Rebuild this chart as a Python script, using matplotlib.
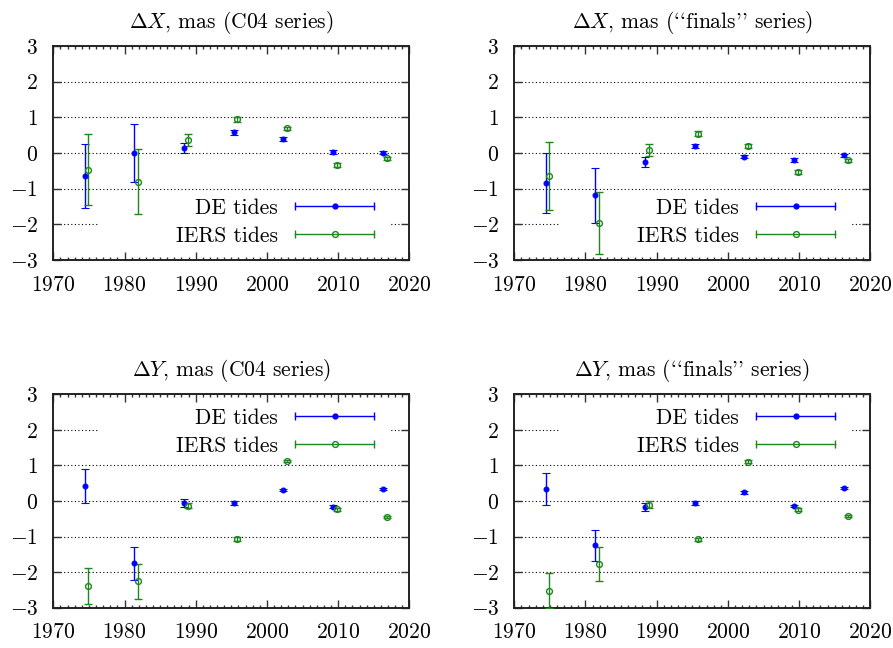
import matplotlib
matplotlib.use('Agg')
import matplotlib.pyplot as plt
from matplotlib.lines import Line2D
from matplotlib.patches import Rectangle
from matplotlib.legend_handler import HandlerBase

# epochs (years) of the two solutions
years_de = [1974.4, 1981.3, 1988.3, 1995.4, 2002.3, 2009.3, 2016.3]
years_iers = [1974.9, 1981.85, 1988.9, 1995.85, 2002.8, 2009.8, 2016.8]

# dX, C04
dx_c04_de = [-0.65, 0.0, 0.14, 0.58, 0.39, 0.02, 0.01]
dx_c04_de_err = [0.90, 0.82, 0.15, 0.07, 0.06, 0.05, 0.05]
dx_c04_iers = [-0.47, -0.81, 0.36, 0.95, 0.69, -0.34, -0.15]
dx_c04_iers_err = [1.00, 0.91, 0.17, 0.07, 0.05, 0.05, 0.05]

# dX, finals
dx_fin_de = [-0.84, -1.19, -0.25, 0.19, -0.10, -0.19, -0.07]
dx_fin_de_err = [0.84, 0.77, 0.15, 0.06, 0.05, 0.05, 0.05]
dx_fin_iers = [-0.65, -1.96, 0.09, 0.54, 0.20, -0.53, -0.21]
dx_fin_iers_err = [0.95, 0.87, 0.17, 0.07, 0.05, 0.05, 0.05]

# dY, C04
dy_c04_de = [0.42, -1.75, -0.06, -0.06, 0.30, -0.16, 0.33]
dy_c04_de_err = [0.48, 0.46, 0.11, 0.05, 0.03, 0.04, 0.03]
dy_c04_iers = [-2.39, -2.26, -0.13, -1.07, 1.13, -0.23, -0.44]
dy_c04_iers_err = [0.52, 0.50, 0.08, 0.05, 0.03, 0.04, 0.03]

# dY, finals
dy_fin_de = [0.34, -1.25, -0.17, -0.05, 0.24, -0.14, 0.36]
dy_fin_de_err = [0.44, 0.43, 0.10, 0.05, 0.03, 0.04, 0.03]
dy_fin_iers = [-2.52, -1.77, -0.11, -1.08, 1.11, -0.24, -0.41]
dy_fin_iers_err = [0.50, 0.47, 0.10, 0.05, 0.03, 0.04, 0.03]

# cmr10 uses TeX-style quotes: `` and ''
titles = [r"$\Delta X$, mas (C04 series)", r"$\Delta X$, mas (``finals'' series)",
          r"$\Delta Y$, mas (C04 series)", r"$\Delta Y$, mas (``finals'' series)"]
panels = [
    (dx_c04_de, dx_c04_de_err, dx_c04_iers, dx_c04_iers_err),
    (dx_fin_de, dx_fin_de_err, dx_fin_iers, dx_fin_iers_err),
    (dy_c04_de, dy_c04_de_err, dy_c04_iers, dy_c04_iers_err),
    (dy_fin_de, dy_fin_de_err, dy_fin_iers, dy_fin_iers_err),
]

plt.rcParams['font.family'] = ['cmr10', 'DejaVu Serif']
plt.rcParams['mathtext.fontset'] = 'cm'
plt.rcParams['axes.formatter.use_mathtext'] = True
plt.rcParams['axes.unicode_minus'] = True

BLUE = '#0000ff'
GREEN = '#208620'
FS = 15.5


class HBarHandler(HandlerBase):
    # gnuplot-like key sample: horizontal error bar with a point in the middle
    def create_artists(self, legend, orig_handle, xdescent, ydescent,
                       width, height, fontsize, trans):
        data_line = orig_handle[0]
        c = data_line.get_color()
        y = height / 2 - ydescent
        x0, x1 = -xdescent, width - xdescent
        ln = Line2D([x0, x1], [y, y], color=c, lw=1.0)
        caps = Line2D([x0, x1], [y, y], ls='', marker='|', ms=6, mew=1.0, color=c)
        pt = Line2D([(x0 + x1) / 2], [y], ls='', marker='o',
                    ms=data_line.get_markersize(),
                    mfc=data_line.get_markerfacecolor(), mec=c, mew=1.0)
        for a in (ln, caps, pt):
            a.set_transform(trans)
        return [ln, caps, pt]


fig = plt.figure(figsize=(8.93, 6.48), dpi=100)
boxes = [
    [0.0597, 0.5988, 0.3987, 0.3302],
    [0.5759, 0.5988, 0.3987, 0.3302],
    [0.0597, 0.0622, 0.3987, 0.3293],
    [0.5759, 0.0622, 0.3987, 0.3293],
]

for i, (box, title, (de, de_err, ie, ie_err)) in enumerate(zip(boxes, titles, panels)):
    ax = fig.add_axes(box)
    ax.set_axisbelow(True)
    ax.set_xlim(1970, 2020)
    ax.set_ylim(-3, 3)
    ax.set_xticks(range(1970, 2021, 10))
    ax.set_xticks(range(1970, 2021, 1), minor=True)
    ax.set_yticks(range(-3, 4))
    ax.tick_params(which='both', direction='in', top=True, right=True,
                   labelsize=FS, color='#333333')
    ax.tick_params(which='major', length=6, width=1.0)
    ax.tick_params(which='minor', length=2.5, width=1.0)
    ax.tick_params(axis='x', pad=11)
    ax.tick_params(axis='y', pad=11)
    ax.grid(axis='y', color='black', lw=0.8, ls=(0, (1, 2.2)))
    for s in ax.spines.values():
        s.set_linewidth(1.4)
        s.set_color('#222222')
    ax.set_title(title, fontsize=FS, pad=13)

    h1 = ax.errorbar(years_de, de, yerr=de_err, fmt='o', color=BLUE, ms=3.5,
                     mew=0.8, elinewidth=1.0, capsize=3, capthick=1.0, zorder=3)
    h2 = ax.errorbar(years_iers, ie, yerr=ie_err, fmt='o', color=GREEN, ms=4.2,
                     mfc='none', mew=1.0, elinewidth=1.0, capsize=3, capthick=1.0,
                     zorder=3)

    top = i < 2
    # opaque key background (hides grid only)
    ry = 0.04 if top else 0.69
    ax.add_patch(Rectangle((0.129, ry), 0.817, 0.27, transform=ax.transAxes,
                           facecolor='white', edgecolor='none', zorder=1))
    ax.legend([h1, h2], ['DE tides', 'IERS tides'],
              handler_map={type(h1): HBarHandler()},
              loc='center right', bbox_to_anchor=(0.902, 0.1775 if top else 0.823),
              frameon=False, markerfirst=False, fontsize=FS, handlelength=3.7,
              handletextpad=0.8, labelspacing=0.4, borderpad=0, borderaxespad=0)

fig.savefig('out.png', dpi=100)
